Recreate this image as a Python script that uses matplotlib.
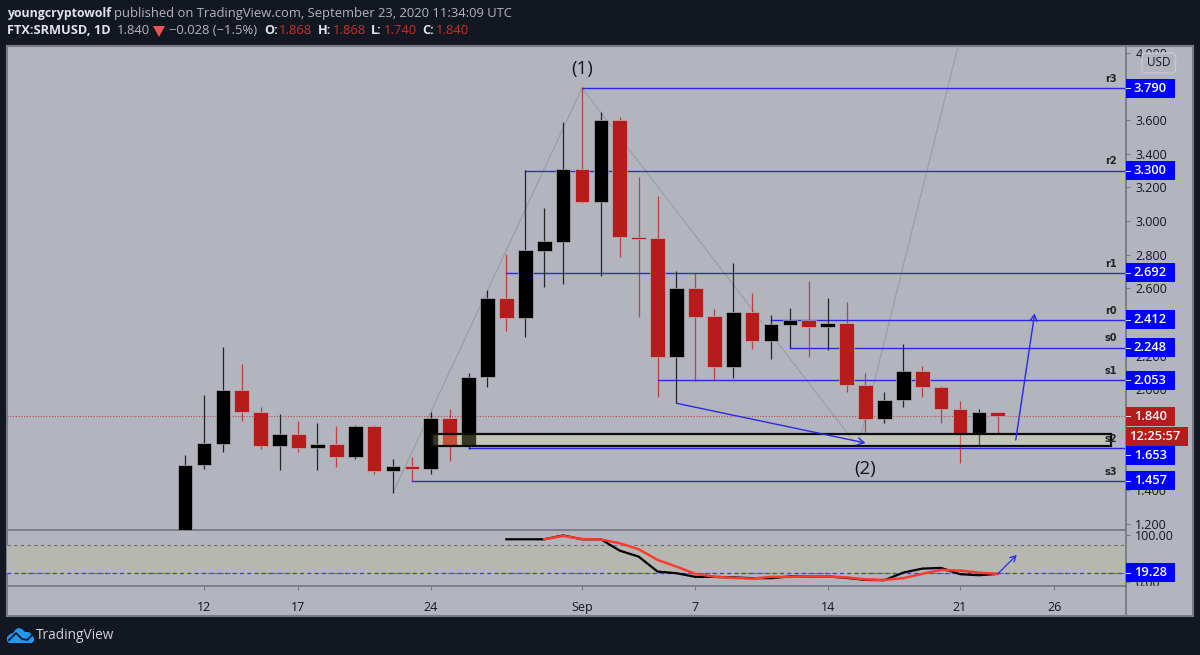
import matplotlib
matplotlib.use('Agg')
import matplotlib.pyplot as plt
from matplotlib.patches import Rectangle, FancyBboxPatch, Polygon

W, H = 1200, 655
plt.rcParams['font.family'] = ['Open Sans', 'DejaVu Sans']

# days are counted from Sep 1 (Aug 11 = -21, Sep 23 = 22)
days = list(range(-21, 23))
opens = [1.10, 1.548, 1.677, 1.997, 1.867, 1.665, 1.732, 1.653, 1.677, 1.598, 1.780,
         1.514, 1.546, 1.526, 1.829, 1.669, 2.073, 2.545, 2.425, 2.823, 2.875,
         3.307, 3.115, 3.600, 2.905, 2.897, 2.194, 2.600, 2.434, 2.135, 2.457, 2.287,
         2.382, 2.410, 2.370, 2.392, 2.025, 1.823, 1.935, 2.107, 2.012, 1.883, 1.734, 1.868]
highs = [1.609, 1.964, 2.249, 2.148, 1.895, 1.851, 1.810, 1.800, 1.784, 1.788, 1.785,
         1.586, 1.599, 1.863, 1.881, 2.097, 2.590, 2.802, 3.301, 3.075, 3.586,
         3.794, 3.648, 3.616, 3.263, 3.148, 2.703, 2.689, 2.477, 2.750, 2.570, 2.440,
         2.483, 2.642, 2.544, 2.517, 2.097, 1.986, 2.269, 2.138, 2.018, 1.930, 1.883, 1.868]
lows = [1.05, 1.528, 1.629, 1.810, 1.645, 1.520, 1.627, 1.520, 1.540, 1.587, 1.497,
        1.385, 1.453, 1.497, 1.576, 1.647, 2.015, 2.346, 2.309, 2.609, 2.626,
        3.105, 2.675, 2.788, 2.431, 1.954, 1.917, 2.051, 2.051, 2.065, 2.241, 2.178,
        2.247, 2.194, 2.235, 1.986, 1.746, 1.801, 1.896, 1.952, 1.798, 1.560, 1.665, 1.740]
closes = [1.550, 1.679, 1.997, 1.865, 1.665, 1.732, 1.653, 1.677, 1.598, 1.780, 1.514,
          1.546, 1.526, 1.829, 1.669, 2.073, 2.545, 2.425, 2.829, 2.879, 3.307,
          3.115, 3.600, 2.903, 2.893, 2.194, 2.600, 2.429, 2.135, 2.457, 2.287, 2.386,
          2.410, 2.370, 2.392, 2.025, 1.823, 1.938, 2.107, 2.012, 1.883, 1.734, 1.867, 1.840]
# candle colours
is_red = [0, 0, 0, 1, 1, 0, 1, 0, 1, 0, 1,
          0, 1, 0, 1, 0, 0, 1, 0, 0, 0,
          1, 0, 1, 1, 1, 0, 1, 1, 0, 1, 0,
          0, 1, 0, 1, 1, 0, 0, 1, 1, 1, 0, 1]

level_names = ['r3', 'r2', 'r1', 'r0', 's0', 's1', 's2', 's3']
level_prices = [3.790, 3.300, 2.692, 2.412, 2.248, 2.053, 1.653, 1.457]
level_starts = [0, -3, -4, 10, 11, 4, -6, -9]
level_tags = [3.790, 3.300, 2.692, 2.412, 2.248, 2.053, 1.607, 1.457]

# 2.400, 1.800 and 1.600 sit fully behind the price tags
price_ticks = [4.0, 3.6, 3.4, 3.2, 3.0, 2.8, 2.6, 2.2, 2.0, 1.4, 1.2]

zig_days = [-10, 0, 14.6, 19.9]
zig_prices = [1.385, 3.79, 1.657, 4.04]

zone_days = [-7.95, 28.0]
zone_prices = [1.665, 1.734]

stoch_days = list(range(-4, 23))
stoch_k = [91.8, 91.8, 91.8, 100, 91.8, 91.8, 67.3, 54.4, 22.2, 18.7, 10.8, 10.8, 9.7, 8,
           8, 11.8, 11.4, 11.8, 8.6, 4.3, 3.7, 20, 28.6, 30.1, 16.6, 14.4, 17.2]
stoch_d_days = list(range(-2, 23))
stoch_d = [91.8, 99, 92.5, 91.4, 83.2, 70.3, 47.3, 32.9, 17.2, 11.4, 8.6, 7.1,
           10.8, 10.8, 11.8, 11.8, 9.7, 5.4, 4.3, 8, 17.2, 25.8, 24.3, 20, 17.2]

x_tick_days = [-20, -15, -8, 0, 6, 13, 20, 25]
x_tick_labels = ['12', '17', '24', 'Sep', '7', '14', '21', '26']

BG = '#b2b5be'
DARK = '#131722'
GRID = '#787b86'
RED = '#b71c1c'
BLUE = '#0000ff'
LINE_BLUE = '#2a2ae6'


def box(x0, y0, x1, y1):
    # pixel box (top-left origin) to figure fractions
    return [x0 / W, 1 - y1 / H, (x1 - x0) / W, (y1 - y0) / H]


fig = plt.figure(figsize=(W / 100, H / 100), dpi=100, facecolor=DARK)

panel = fig.add_axes(box(7, 46, 1193, 616), facecolor=BG, zorder=0)
panel.set_xticks([])
panel.set_yticks([])
for s in panel.spines.values():
    s.set_color(GRID)
    s.set_linewidth(1.5)

xlim = ((7 - 582) / 18.9, (1125.5 - 582) / 18.9)

ax = fig.add_axes(box(7, 46, 1125.5, 530), facecolor='none', zorder=2)
ax.set_xlim(xlim)
ax.set_ylim(1.164, 4.040)
ax.xaxis.set_visible(False)
ax.yaxis.tick_right()
ax.set_yticks(price_ticks)
ax.set_yticklabels(['%.3f' % p for p in price_ticks])
ax.tick_params(axis='y', length=3, width=0.8, color=GRID, labelcolor=DARK, labelsize=9, pad=4)
for name in ['top', 'left']:
    ax.spines[name].set_visible(False)
for name in ['right', 'bottom']:
    ax.spines[name].set_color(GRID)
    ax.spines[name].set_linewidth(1.3)

# gray zig-zag
ax.plot(zig_days, zig_prices, color='#9a9ca4', lw=0.8, zorder=1.5)

# levels
for name, price, start in zip(level_names, level_prices, level_starts):
    ax.plot([start, xlim[1]], [price, price], color=LINE_BLUE, lw=1.0, zorder=1.6)
    ax.annotate(name, xy=(28, price), xytext=(0, 3), textcoords='offset points', ha='center',
                va='bottom', fontsize=7, fontweight='bold', color='#222222', family='DejaVu Sans', zorder=6)

# last price line
ax.axhline(closes[-1], color=RED, lw=0.8, ls=(0, (1, 1.5)), alpha=0.7, zorder=1.7)

# candles
for d, o, h, l, c, r in zip(days, opens, highs, lows, closes, is_red):
    col = RED if r else '#000000'
    ax.vlines(d, l, h, color=RED if r else '#1c1c1c', lw=0.9, alpha=0.75 if r else 0.95, zorder=3)
    ax.bar(d, abs(c - o), bottom=min(o, c), width=0.78, color=col, edgecolor='#c4c6cc',
           linewidth=0.4, zorder=3.2)

# zone
ax.add_patch(Rectangle((zone_days[0], zone_prices[0]), zone_days[1] - zone_days[0],
                       zone_prices[1] - zone_prices[0], facecolor='#ffffa8', alpha=0.22,
                       edgecolor='none', zorder=4))
ax.add_patch(Rectangle((zone_days[0], zone_prices[0]), zone_days[1] - zone_days[0],
                       zone_prices[1] - zone_prices[0], facecolor='none',
                       edgecolor='#0c0c0c', linewidth=1.6, zorder=4.1))

# arrows
for start, end in [((5, 1.917), (15, 1.681)), ((22.95, 1.699), (23.95, 2.451))]:
    ax.annotate('', xy=end, xytext=start, zorder=4.5,
                arrowprops=dict(arrowstyle='->,head_length=0.45,head_width=0.25', color=LINE_BLUE,
                                lw=1.0, shrinkA=0, shrinkB=0))

ax.annotate('(1)', xy=(0, 3.79), xytext=(0, 7), textcoords='offset points', ha='center', va='bottom',
            fontsize=13.5, color=DARK, zorder=6)
ax.annotate('(2)', xy=(15, 1.653), xytext=(0, -9), textcoords='offset points', ha='center', va='top',
            fontsize=13.5, color=DARK, zorder=6)


def tag(axis, y, text, color, width=49, center=24.7, tick=True):
    tr = axis.get_yaxis_transform()
    span = axis.get_position().width * W
    pix = axis.get_position().height * H
    ylo, yhi = axis.get_ylim()
    h = 19 * (yhi - ylo) / pix
    axis.add_patch(Rectangle((1, y - h / 2), width / span, h, transform=tr, clip_on=False,
                             facecolor=color, edgecolor='none', zorder=7))
    if tick:
        axis.plot([1, 1 + 4 / span], [y, y], transform=tr, clip_on=False, color='#e8e8f0', lw=0.7, zorder=8)
    axis.text(1 + center / span, y, text, transform=tr, ha='center', va='center',
              color='white', fontsize=9.3, fontweight='semibold', zorder=8, clip_on=False)


for tag_y, price in zip(level_tags, level_prices):
    tag(ax, tag_y, '%.3f' % price, BLUE)
tag(ax, closes[-1], '%.3f' % closes[-1], RED)
tag(ax, 1.719, '12:25:57', RED, width=62, center=29.5, tick=False)

# currency badge, in figure pixels from the bottom left
usd = FancyBboxPatch((1142, H - 73), 33.5, 20, boxstyle='round,pad=0,rounding_size=4',
                     transform=None, facecolor=BG, edgecolor='#c8cad0', linewidth=1, zorder=5)
fig.add_artist(usd)
fig.text(1158.7 / W, 1 - 63 / H, 'USD', ha='center', va='center', fontsize=8.5, color=DARK, zorder=6)

# lower pane
ax2 = fig.add_axes(box(7, 530, 1125.5, 585.7), facecolor='none', zorder=1)
ax2.set_xlim(xlim)
ax2.set_ylim(-8.2, 111.8)
ax2.axhspan(20, 80, color='#b5b7b0', lw=0, zorder=0.5)
ax2.axhline(80, color='#6b6e76', lw=0.8, ls=(0, (3, 3)), zorder=1)
ax2.axhline(20, color='#6b6e76', lw=0.8, ls=(0, (3, 3)), zorder=1)
ax2.axhline(19.28, color='#3c3cf0', lw=0.9, ls=(0, (3, 3)), zorder=1.1)
ax2.plot(stoch_days, stoch_k, color='black', lw=1.6, zorder=3)
ax2.plot(stoch_d_days, stoch_d, color='#ff3b30', lw=1.8, zorder=3.1)
ax2.annotate('', xy=(23, 58), xytext=(22, 17.2), zorder=4,
             arrowprops=dict(arrowstyle='->,head_length=0.4,head_width=0.22', color=LINE_BLUE, lw=0.9,
                             shrinkA=0, shrinkB=0))
ax2.yaxis.tick_right()
ax2.set_yticks([100, 0])
ax2.set_yticklabels(['100.00', '0.00'])
ax2.tick_params(axis='y', length=3, width=0.8, color=GRID, labelcolor=DARK, labelsize=9, pad=4)
ax2.set_xticks(x_tick_days)
ax2.set_xticklabels(x_tick_labels)
ax2.tick_params(axis='x', length=3, width=0.8, color=GRID, labelcolor=DARK, labelsize=9, pad=8)
ax2.spines['top'].set_visible(False)
ax2.spines['left'].set_visible(False)
for name in ['right', 'bottom']:
    ax2.spines[name].set_color(GRID)
    ax2.spines[name].set_linewidth(1.3)
tag(ax2, 19.28, '19.28', BLUE)

# covers the foot of 0.00 where it runs past the pane, then the axis rule down to the bottom
fig.add_artist(Rectangle((1127 / W, 1 - 614.5 / H), 65 / W, 28.5 / H, transform=fig.transFigure,
                         facecolor=BG, edgecolor='none', zorder=5))
fig.add_artist(plt.Line2D([1125.5 / W, 1125.5 / W], [1 - 585 / H, 1 - 616 / H], color=GRID, lw=1.3))


# header
def head(x, y, s, color='#b2b5be', weight='normal', size=9.4):
    fig.text(x / W, 1 - y / H, s, color=color, fontsize=size, fontweight=weight, va='center', ha='left')


head(7, 13, 'youngcryptowolf', '#e0e3eb', 'bold', 8.9)
head(113.5, 13, 'published on TradingView.com, September 23, 2020 11:34:09 UTC')
head(7, 31, 'FTX:SRMUSD, 1D', '#e0e3eb', 'bold', 9.2)
head(117, 31, '1.840')
fig.add_artist(Polygon([(153 / W, 1 - 26 / H), (165 / W, 1 - 26 / H), (159 / W, 1 - 37 / H)],
                       transform=fig.transFigure, facecolor='#ef5350', edgecolor='none'))
head(169, 31, '\u22120.028 (\u22121.5%)')
red_txt = '#c62f2f'
for x_lab, lab, x_val, val in [(264, 'O:', 279, '1.868'), (318, 'H:', 333, '1.868'),
                               (371, 'L:', 383.5, '1.740'), (422, 'C:', 435.5, '1.840')]:
    head(x_lab, 31, lab, '#e0e3eb', 'bold', 9.2)
    head(x_val, 31, val, red_txt)

# logo
logo = fig.add_axes(box(7, 627, 34, 644), zorder=3)
logo.set_xlim(0, 27)
logo.set_ylim(17, 0)
logo.axis('off')
logo.add_patch(Polygon([(0, 14), (0, 10), (3, 7), (6, 6), (9, 2), (12, 1), (15, 2), (18, 5), (22, 5),
                        (25, 8), (27, 11), (27, 14), (25, 16), (2, 16)], facecolor='#2196f3', edgecolor='none'))
logo.plot([2, 9, 15, 20, 25], [13, 6, 12, 13, 8], color=DARK, lw=1.3)
fig.text(36 / W, 1 - 635.5 / H, 'TradingView', color='#d1d4dc', fontsize=9.8, va='center', ha='left')

fig.savefig('out.png', dpi=100, facecolor=DARK)
